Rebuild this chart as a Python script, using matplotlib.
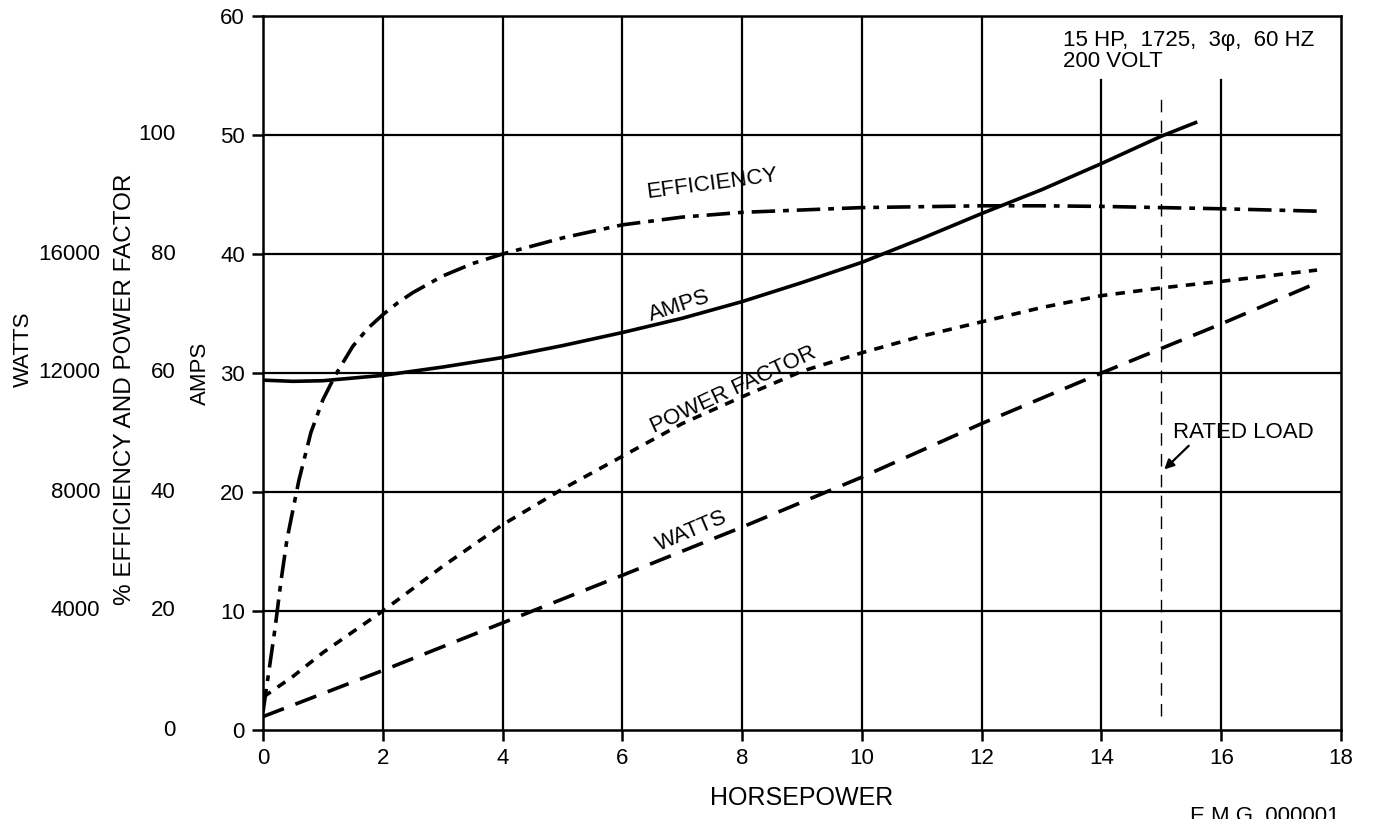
import matplotlib
matplotlib.use("Agg")
import matplotlib.pyplot as plt
import numpy as np

plt.rcParams['font.family'] = ['Liberation Sans', 'DejaVu Sans']

# values (horsepower on x)
eff_hp = [0.0, 0.1, 0.2, 0.3, 0.4, 0.6, 0.8, 1.0, 1.2, 1.5, 1.75, 2.0, 2.25,
          2.5, 3.0, 3.5, 4.0, 5.0, 6.0, 7.0, 8.0, 10.0, 12.0, 13.0, 14.0,
          15.0, 16.0, 17.6]
eff_pct = [3, 10, 17, 25, 32, 42, 50, 55.5, 59.5, 64.5, 67.5, 69.8, 71.8,
           73.5, 76.3, 78.4, 80, 82.7, 84.9, 86.2, 87, 87.8, 88.1, 88.1, 88.0,
           87.8, 87.6, 87.2]

amps_hp = [0, 0.5, 1, 2, 3, 4, 5, 6, 7, 8, 9, 10, 11, 12, 13, 14, 15, 15.6]
amps = [29.4, 29.3, 29.35, 29.8, 30.5, 31.3, 32.3, 33.4, 34.6, 36.0, 37.6,
        39.3, 41.3, 43.4, 45.4, 47.6, 49.9, 51.1]

pf_hp = [0, 0.5, 1, 2, 3, 4, 5, 6, 7, 8, 9, 10, 11, 12, 13, 14, 15, 16, 17.6]
pf_pct = [5.5, 9, 13, 20, 27.5, 34.5, 40.5, 46, 51.5, 56, 60.3, 63.4, 66.2,
          68.6, 71, 73, 74.3, 75.4, 77.3]

watts_hp = [0, 2, 4, 6, 8, 10, 12, 14, 16, 17.6]
watts = [450, 2000, 3600, 5200, 6820, 8500, 10300, 12000, 13650, 15030]

hp_ticks = list(range(0, 19, 2))
amp_ticks = [0, 10, 20, 30, 40, 50, 60]
pct_ticks = [0, 20, 40, 60, 80, 100]
watt_ticks = [4000, 8000, 12000, 16000]

rated_hp = 15

# other scales mapped onto the amps axis
PCT_PER_AMP = 2.0
WATT_PER_AMP = 400.0

fig = plt.figure(figsize=(13.74, 8.19), dpi=100)
ax = fig.add_axes([263 / 1374, 89 / 819, 1078 / 1374, 714 / 819])
ax.set_xlim(0, 18)
ax.set_ylim(0, 60)

lw_grid = 1.6
for v in [2, 4, 6, 8, 10, 12]:
    ax.axvline(v, color='black', lw=lw_grid, zorder=1)
for v in [14, 16]:
    ax.plot([v, v], [0, 54.6], color='black', lw=lw_grid, zorder=1)
for v in amp_ticks[1:-1]:
    ax.axhline(v, color='black', lw=lw_grid, zorder=1)

for s in ax.spines.values():
    s.set_linewidth(1.8)

tfs = 16
ax.set_xticks(hp_ticks)
ax.set_yticks(amp_ticks)
ax.tick_params(axis='both', direction='out', length=8, width=1.8,
               labelsize=tfs, pad=5)

# curves
lw = 2.6
ax.plot(amps_hp, amps, color='black', lw=lw, solid_capstyle='butt', zorder=3)
ax.plot(eff_hp, np.array(eff_pct) / PCT_PER_AMP, color='black', lw=lw,
        dashes=(6.5, 2.2, 1.6, 2.2), zorder=3)
ax.plot(pf_hp, np.array(pf_pct) / PCT_PER_AMP, color='black', lw=lw,
        dashes=(2.6, 2.3), zorder=3)
ax.plot(watts_hp, np.array(watts) / WATT_PER_AMP, color='black', lw=lw,
        dashes=(6.2, 3.4), zorder=3)

# rated load line
ax.plot([rated_hp, rated_hp], [1.2, 53.6], color='black', lw=1.0,
        dashes=(9, 6), zorder=2)

# curve labels
fs = 16
ax.text(7.5, 45.9, 'EFFICIENCY', rotation=7.5, fontsize=fs, ha='center',
        va='center', rotation_mode='anchor')
ax.text(6.95, 35.6, 'AMPS', rotation=18, fontsize=fs, ha='center',
        va='center', rotation_mode='anchor')
ax.text(7.85, 28.6, 'POWER FACTOR', rotation=25, fontsize=fs, ha='center',
        va='center', rotation_mode='anchor')
ax.text(7.15, 16.7, 'WATTS', rotation=23, fontsize=fs, ha='center',
        va='center', rotation_mode='anchor')

ax.text(13.35, 58.85, '15 HP,  1725,  3\u03c6,  60 HZ\n200 VOLT', fontsize=16,
        ha='left', va='top', linespacing=1.0)

ax.annotate('RATED LOAD', xy=(15.05, 21.9), xytext=(15.2, 25.0), fontsize=16,
            ha='left', va='center',
            arrowprops=dict(arrowstyle='-|>', color='black', lw=1.6,
                            shrinkA=0, shrinkB=0, mutation_scale=14,
                            relpos=(0.13, 0.0)))

# extra scales on the left
ytr = ax.get_yaxis_transform()
for v in pct_ticks:
    ax.text(-0.081, v / PCT_PER_AMP, str(v), transform=ytr, ha='right',
            va='center', fontsize=tfs)
for v in watt_ticks:
    ax.text(-0.151, v / WATT_PER_AMP, str(v), transform=ytr, ha='right',
            va='center', fontsize=tfs)

ax.text(-0.058, 30, 'AMPS', transform=ytr, rotation=90, ha='center',
        va='center', fontsize=16)
ax.text(-0.128, 28.6, '% EFFICIENCY AND POWER FACTOR', transform=ytr,
        rotation=90, ha='center', va='center', fontsize=17.5)
ax.text(-0.222, 32, 'WATTS', transform=ytr, rotation=90, ha='center',
        va='center', fontsize=16)

ax.set_xlabel('HORSEPOWER', fontsize=18, labelpad=12)

fig.text(1190 / 1374, 1 - 806 / 819, 'E.M.G. 000001', fontsize=16,
         ha='left', va='top')

fig.savefig('out.png', dpi=100)
